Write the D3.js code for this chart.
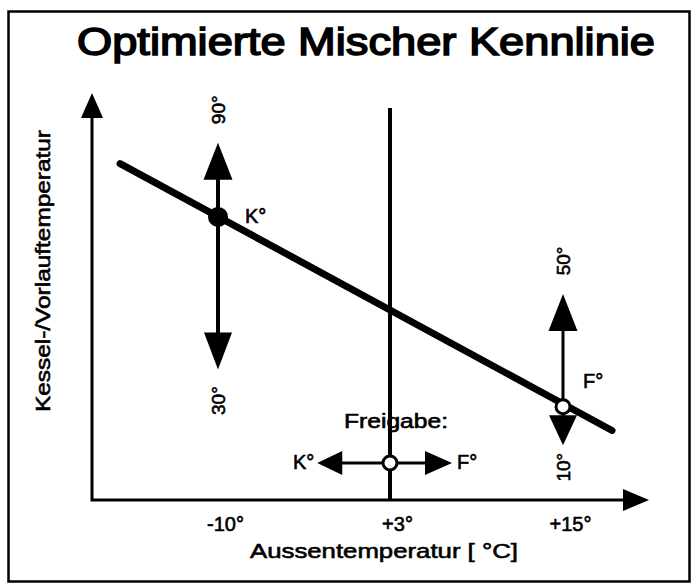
<!DOCTYPE html>
<html>
<head>
<meta charset="utf-8">
<script src="https://cdn.jsdelivr.net/npm/d3@7"></script>
<style>
  html, body { margin: 0; padding: 0; background: #fff; }
  svg { display: block; }
  text { font-family: "Liberation Sans", Arial, Helvetica, sans-serif; fill: #000; stroke: #000; stroke-width: 0.6px; }
</style>
</head>
<body>
<div id="chart"></div>
<script>
// ---------------- data ----------------
const titleText = "Optimierte Mischer Kennlinie";
const xAxisLabel = "Aussentemperatur [ °C]";
const yAxisLabel = "Kessel-/Vorlauftemperatur";

const tickValues = [-10, 3, 15];
const tickLabels = ["-10°", "+3°", "+15°"];

// heating curve (outside temp -> boiler/flow temp)
const curveTemp  = [-17.4, 18.4];
const curveValue = [84.5, 13.9];

// characteristic points on the curve
const pointNames  = ["K°", "F°"];
const pointTemp   = [-10, 15];
const pointValue  = [70.4, 20.2];
const pointFilled = [true, false];

// adjustment ranges at the points
const rangeLow        = [30, 10];
const rangeHigh       = [90, 50];
const rangeLowLabels  = ["30°", "10°"];
const rangeHighLabels = ["90°", "50°"];

// release (Freigabe) temperature
const releaseTitle  = "Freigabe:";
const releaseTemp   = 3;
const releaseValue  = 5.3;
const releaseSpan   = [-2.5, 7.3];
const releaseLabels = ["K°", "F°"];

// ---------------- layout ----------------
const W = 696, H = 586;
const axisLeft = 92, axisBottom = 500, axisTop = 93, axisRight = 649;

const svg = d3.select("#chart").append("svg")
  .attr("width", W).attr("height", H);

// polylinear scale: the sketch is not drawn to scale
const x = d3.scaleLinear().domain(tickValues).range([218, 390, 563]);
const y = d3.scaleLinear().domain([0, 100]).range([483, 105]);

// frame
svg.append("rect")
  .attr("x", 8.5).attr("y", 11.5).attr("width", 681).attr("height", 570)
  .attr("fill", "none").attr("stroke", "#000").attr("stroke-width", 2.5);

// title
svg.append("text")
  .attr("x", 366).attr("y", 55)
  .attr("text-anchor", "middle")
  .attr("font-size", 39)
  .style("stroke-width", "1.6px")
  .attr("textLength", 578).attr("lengthAdjust", "spacingAndGlyphs")
  .text(titleText);

// arrowhead helper: tip point, direction unit vector, length, half width
function head(g, tx, ty, dx, dy, len, hw) {
  const bx = tx - dx * len, by = ty - dy * len;
  const px = -dy, py = dx;
  g.append("path")
    .attr("d", `M${tx},${ty}L${bx + px * hw},${by + py * hw}L${bx - px * hw},${by - py * hw}Z`)
    .attr("fill", "#000");
}

// axes
const axes = svg.append("g");
axes.append("path")
  .attr("d", `M${axisLeft},${axisTop + 10}V${axisBottom}H${axisRight - 10}`)
  .attr("fill", "none").attr("stroke", "#000").attr("stroke-width", 3);
head(axes, axisLeft, axisTop, 0, -1, 25, 11);
head(axes, axisRight, axisBottom, 1, 0, 26, 11);

// x axis tick labels through d3 axis
const xAxis = d3.axisBottom(x)
  .tickValues(tickValues)
  .tickSize(0)
  .tickPadding(0)
  .tickFormat((d, i) => tickLabels[i]);
const xg = svg.append("g")
  .attr("transform", `translate(0,${axisBottom})`)
  .call(xAxis);
xg.select(".domain").remove();
xg.selectAll("text")
  .attr("y", 31).attr("dy", 0)
  .attr("dx", 7)
  .attr("font-size", 20)
  .attr("font-family", "\"Liberation Sans\", Arial, sans-serif")
  .attr("fill", "#000");

// axis labels
svg.append("text")
  .attr("x", 384).attr("y", 558)
  .attr("text-anchor", "middle")
  .attr("font-size", 21)
  .attr("textLength", 268).attr("lengthAdjust", "spacingAndGlyphs")
  .text(xAxisLabel);

svg.append("text")
  .attr("transform", "translate(50,271) rotate(-90)")
  .attr("text-anchor", "middle")
  .attr("font-size", 21)
  .attr("textLength", 282).attr("lengthAdjust", "spacingAndGlyphs")
  .text(yAxisLabel);

// release vertical line
svg.append("line")
  .attr("x1", x(releaseTemp)).attr("x2", x(releaseTemp))
  .attr("y1", y(100) + 3).attr("y2", axisBottom)
  .attr("stroke", "#000").attr("stroke-width", 4);

// heating curve
const line = d3.line().x(d => x(d[0])).y(d => y(d[1]));
svg.append("path")
  .attr("d", line(d3.zip(curveTemp, curveValue)))
  .attr("fill", "none").attr("stroke", "#000")
  .attr("stroke-width", 7).attr("stroke-linecap", "round");

// range arrows
const stemWidth = [4, 3];
const headLenUp = [37, 37];
const headLenDown = [37, 30];
pointTemp.forEach((t, i) => {
  const g = svg.append("g");
  const px = x(t);
  g.append("line")
    .attr("x1", px).attr("x2", px)
    .attr("y1", y(rangeHigh[i]) + 10).attr("y2", y(rangeLow[i]) - 10)
    .attr("stroke", "#000").attr("stroke-width", stemWidth[i]);
  head(g, px, y(rangeHigh[i]), 0, -1, headLenUp[i], 14.5);
  head(g, px, y(rangeLow[i]), 0, 1, headLenDown[i], 14);

  g.append("text")
    .attr("transform", `translate(${px},${y(rangeHigh[i]) - 33}) rotate(-90)`)
    .attr("text-anchor", "middle").attr("dy", "0.35em")
    .attr("font-size", 19)
    .text(rangeHighLabels[i]);
  g.append("text")
    .attr("transform", `translate(${px},${y(rangeLow[i]) + (i === 0 ? 31 : 22)}) rotate(-90)`)
    .attr("text-anchor", "middle").attr("dy", "0.35em")
    .attr("font-size", 19)
    .text(rangeLowLabels[i]);
});

// points on the curve
pointTemp.forEach((t, i) => {
  svg.append("circle")
    .attr("cx", x(t)).attr("cy", y(pointValue[i]))
    .attr("r", pointFilled[i] ? 8.5 : 7)
    .attr("fill", pointFilled[i] ? "#000" : "#fff")
    .attr("stroke", "#000").attr("stroke-width", 3);
});
svg.append("text")
  .attr("x", x(pointTemp[0]) + 27).attr("y", y(pointValue[0]) + 6)
  .attr("font-size", 20)
  .text(pointNames[0]);
svg.append("text")
  .attr("x", x(pointTemp[1]) + 20).attr("y", y(pointValue[1]) - 19)
  .attr("font-size", 20)
  .text(pointNames[1]);

// release arrows
const rg = svg.append("g");
const ry = y(releaseValue);
rg.append("line")
  .attr("x1", x(releaseSpan[0]) + 10).attr("x2", x(releaseSpan[1]) - 10)
  .attr("y1", ry).attr("y2", ry)
  .attr("stroke", "#000").attr("stroke-width", 3);
head(rg, x(releaseSpan[0]), ry, -1, 0, 25, 12);
head(rg, x(releaseSpan[1]), ry, 1, 0, 27, 12);
rg.append("circle")
  .attr("cx", x(releaseTemp)).attr("cy", ry).attr("r", 7)
  .attr("fill", "#fff").attr("stroke", "#000").attr("stroke-width", 3);
rg.append("text")
  .attr("x", x(releaseSpan[0]) - 3).attr("y", ry + 6)
  .attr("text-anchor", "end").attr("font-size", 20)
  .text(releaseLabels[0]);
rg.append("text")
  .attr("x", x(releaseSpan[1]) + 5).attr("y", ry + 6)
  .attr("font-size", 20)
  .text(releaseLabels[1]);
rg.append("text")
  .attr("x", 396).attr("y", 428)
  .attr("text-anchor", "middle").attr("font-size", 20)
  .attr("textLength", 104).attr("lengthAdjust", "spacingAndGlyphs")
  .text(releaseTitle);
</script>
</body>
</html>
